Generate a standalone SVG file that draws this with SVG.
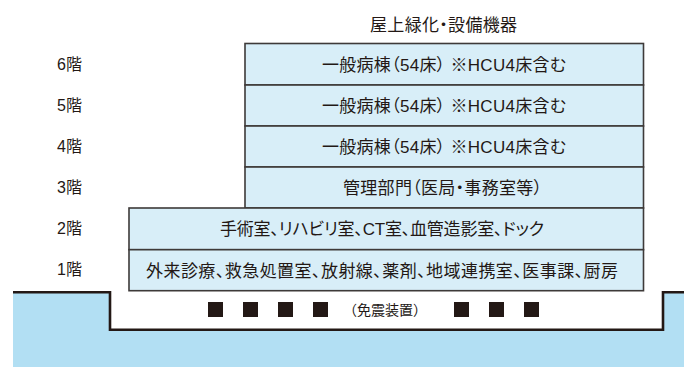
<svg xmlns="http://www.w3.org/2000/svg" width="684" height="367" viewBox="0 0 684 367">
<style>
text{font-family:"Liberation Sans","Noto Sans CJK JP",sans-serif;fill:#231815;font-size:17px;font-feature-settings:"palt"}
.c{text-anchor:middle}
.lb{font-size:16px}
.sm{font-size:14px;font-feature-settings:normal}
.box{fill:#d8eef8;stroke:#3e3a39;stroke-width:1.6}
.sq{fill:#231815}
</style>
<rect width="684" height="367" fill="#fff"/>
<g id="ground">
<path d="M13 292.3 H110 V329.7 H663 V292.3 H684 V367 H13 Z" fill="#b2dff3"/>
<path d="M13 292.3 H110 V329.7 H663 V292.3 H684" fill="none" stroke="#231815" stroke-width="2.6"/>
</g>
<g id="roof"><text class="c" x="443.5" y="31" textLength="147" lengthAdjust="spacing">屋上緑化・設備機器</text></g>
<g id="f6"><rect class="box" x="245" y="43.5" width="398.5" height="41.5"/><text class="c" x="444" y="70.5" textLength="244" lengthAdjust="spacing">一般病棟（54床） ※HCU4床含む</text></g>
<g id="f5"><rect class="box" x="245" y="85" width="398.5" height="41"/><text class="c" x="444" y="111.5" textLength="244" lengthAdjust="spacing">一般病棟（54床） ※HCU4床含む</text></g>
<g id="f4"><rect class="box" x="245" y="126" width="398.5" height="41"/><text class="c" x="444" y="152.5" textLength="244" lengthAdjust="spacing">一般病棟（54床） ※HCU4床含む</text></g>
<g id="f3"><rect class="box" x="245" y="167" width="398.5" height="41"/><text class="c" x="442.5" y="193.5" textLength="199" lengthAdjust="spacing">管理部門（医局・事務室等）</text></g>
<g id="f2"><rect class="box" x="129" y="208" width="514.5" height="41.7"/><text class="c" x="382" y="235" textLength="324" lengthAdjust="spacing">手術室、リハビリ室、CT室、血管造影室、ドック</text></g>
<g id="f1"><rect class="box" x="129" y="249.7" width="514.5" height="41"/><text class="c" x="382" y="276.5" textLength="472" lengthAdjust="spacing">外来診療、救急処置室、放射線、薬剤、地域連携室、医事課、厨房</text></g>
<g id="labels">
<text class="lb" x="57" y="69.5">6階</text>
<text class="lb" x="57" y="110.5">5階</text>
<text class="lb" x="57" y="151.5">4階</text>
<text class="lb" x="57" y="192.5">3階</text>
<text class="lb" x="57" y="233.5">2階</text>
<text class="lb" x="57" y="275">1階</text>
</g>
<g id="isolation">
<rect class="sq" x="208" y="302" width="15" height="15"/>
<rect class="sq" x="243" y="302" width="15" height="15"/>
<rect class="sq" x="278" y="302" width="15" height="15"/>
<rect class="sq" x="313" y="302" width="15" height="15"/>
<text class="c sm" x="385" y="315">（免震装置）</text>
<rect class="sq" x="454" y="302" width="15" height="15"/>
<rect class="sq" x="489" y="302" width="15" height="15"/>
<rect class="sq" x="524" y="302" width="15" height="15"/>
</g>
<g id="connectors"/>
</svg>
